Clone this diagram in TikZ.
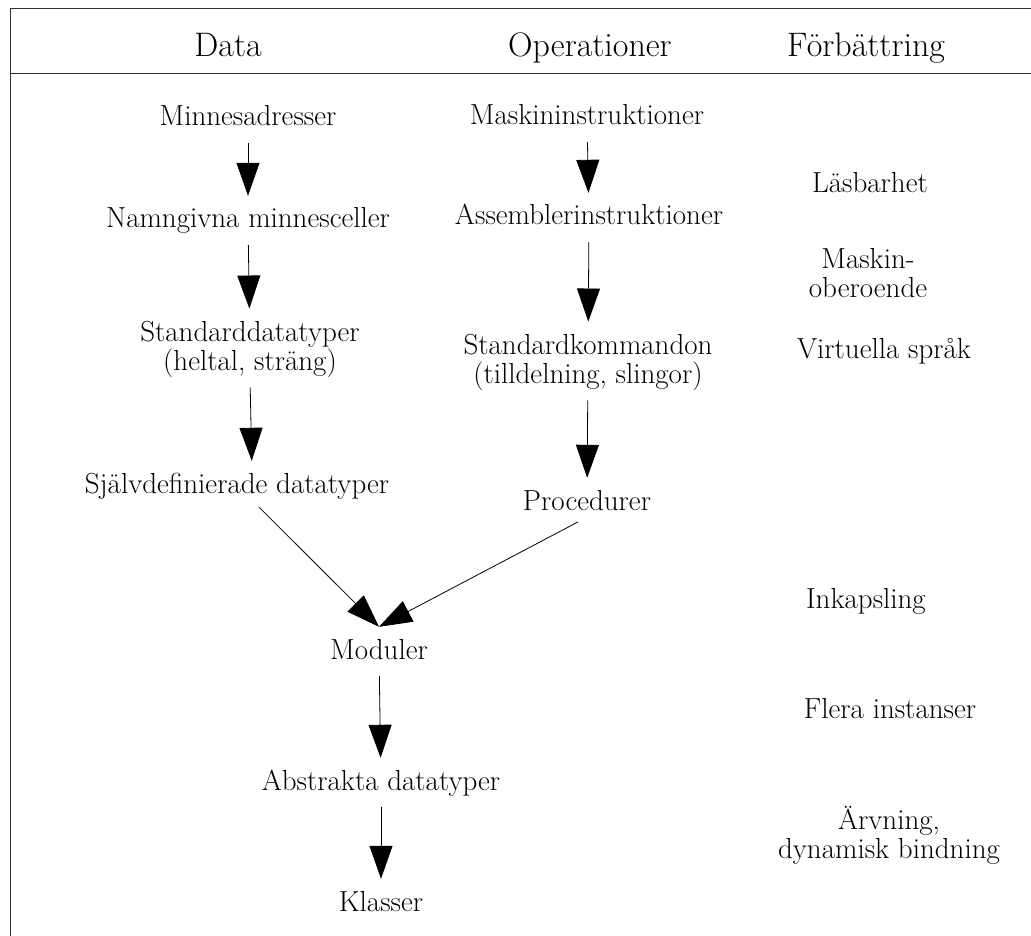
\documentclass[tikz,border=0pt]{standalone}
\usepackage{tikz}
\usetikzlibrary{arrows.meta}

\begin{document}
\begin{tikzpicture}[x=1pt,y=-1pt,
    rubrik/.style={font=\fontsize{34}{38}\selectfont, inner sep=0pt, anchor=base},
    steg/.style={font=\fontsize{29}{29}\selectfont, inner sep=0pt, align=center, anchor=base},
    enrad/.style={steg, text height=20pt, text depth=7pt},
    pil/.style={-{Triangle[length=33pt,width=23pt]}, line width=0.8pt,
                shorten <=10pt, shorten >=12pt}]
      \useasboundingbox (0,0) rectangle (1031,936);

      % Ram och rubrikrad
      \draw[line width=1pt, black!80] (1031,9) -- (10,9) -- (10,936);
      \draw[line width=1pt, black!80] (10,74) -- (1031,74);
      \node[rubrik] (hdata) at (228,57) {Data};
      \node[rubrik] (hop) at (590,57) {Operationer};
      \node[rubrik] (hforb) at (866,57) {Förbättring};

      % Data (flerradiga noder: base = sista raden)
      \node[enrad] (minne) at (248,126) {Minnesadresser};
      \node[enrad] (namn) at (248,228) {Namngivna minnesceller};
      \node[steg] (stddata) at (250,370) {Standarddatatyper\\(heltal, sträng)};
      \node[enrad] (egna) at (237,493) {Självdefinierade datatyper};

      % Operationer
      \node[enrad] (maskin) at (587,125) {Maskininstruktioner};
      \node[enrad] (assembler) at (589,225) {Assemblerinstruktioner};
      \node[steg] (stdkom) at (588,383) {Standardkommandon\\(tilldelning, slingor)};
      \node[enrad] (proc) at (587,510) {Procedurer};

      % Gemensamt
      \node[enrad] (moduler) at (379,659) {Moduler};
      \node[enrad] (abstrakt) at (381,790) {Abstrakta datatyper};
      \node[enrad] (klasser) at (381,911) {Klasser};
      \coordinate (modin) at ([yshift=12pt]moduler.north);

      % Förbättring
      \node[steg] (las) at (870,193) {Läsbarhet};
      \node[steg] (maskober) at (868,298) {Maskin-\\oberoende};
      \node[steg] (virt) at (884,358) {Virtuella språk};
      \node[steg] (inkaps) at (866,608) {Inkapsling};
      \node[steg] (flera) at (890,718) {Flera instanser};
      \node[steg] (arv) at (889,858) {Ärvning,\\dynamisk bindning};

      % Pilar
      \draw[pil] (minne) -- (namn);
      \draw[pil] (namn) -- (stddata);
      \draw[pil] (stddata.south) -- ([xshift=15pt]egna.north);
      \draw[pil] (maskin) -- (assembler);
      \draw[pil] (assembler) -- (stdkom);
      \draw[pil] (stdkom) -- (proc);
      \draw[pil, shorten >=0pt] ([xshift=15pt]egna.south) -- (modin);
      \draw[pil, shorten >=0pt] (proc.south) -- (modin);
      \draw[pil] (moduler) -- (abstrakt);
      \draw[pil] (abstrakt) -- (klasser);
    \end{tikzpicture}
\end{document}
